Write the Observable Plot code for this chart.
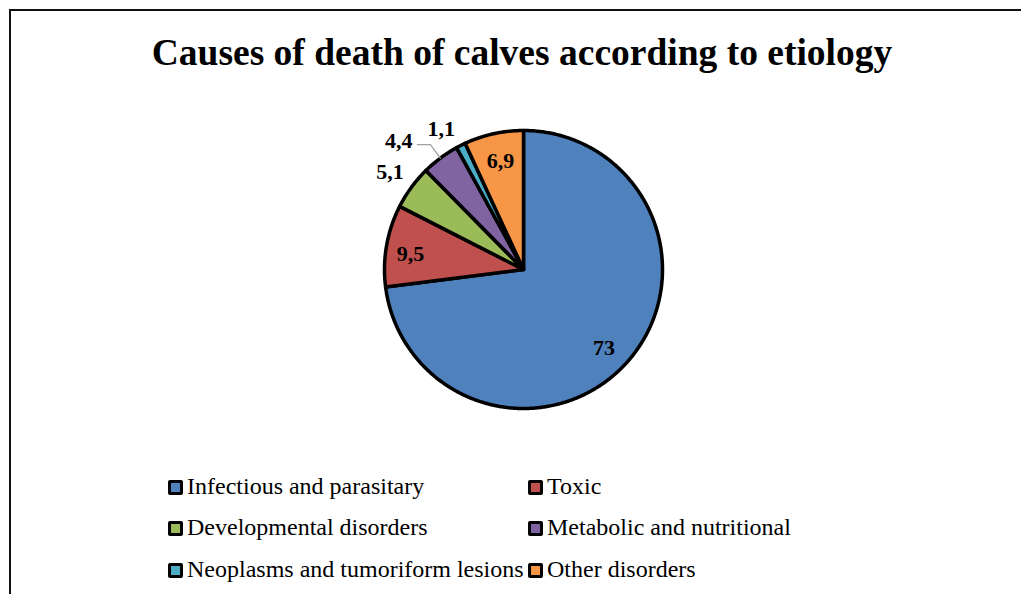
<!DOCTYPE html>
<html><head><meta charset="utf-8">
<script src="https://cdn.jsdelivr.net/npm/d3@7"></script>
<script src="https://cdn.jsdelivr.net/npm/@observablehq/plot@0.6"></script>
<style>
body{margin:0;background:#fff;}
#wrap{position:relative;width:1021px;height:594px;overflow:hidden;font-family:"Liberation Serif","Times New Roman",serif;color:#000;}
#frame{position:absolute;left:9px;top:9px;width:1100px;height:700px;border-left:2px solid #111;border-top:2px solid #111;}
#title{position:absolute;left:0;width:1044px;top:34px;text-align:center;font-weight:bold;font-size:37.5px;line-height:1;white-space:nowrap;}
#chart{position:absolute;left:0;top:100px;}
.leg{position:absolute;font-size:24px;line-height:1;display:flex;align-items:center;white-space:nowrap;}
.sw{width:9px;height:9px;border:3px solid #000;border-radius:2px;margin-right:4px;margin-top:2px;}
</style></head>
<body>
<div id="wrap">
  <div id="frame"></div>
  <div id="title"></div>
  <div id="chart"></div>
  <div id="legend"></div>
</div>
<script>
// ---- data ----
const title = "Causes of death of calves according to etiology";
const categories = ["Infectious and parasitary","Toxic","Developmental disorders","Metabolic and nutritional","Neoplasms and tumoriform lesions","Other disorders"];
const values = [73, 9.5, 5.1, 4.4, 1.1, 6.9];
const colors = ["#4F81BD","#C0504D","#9BBB59","#8064A2","#4BACC6","#F79646"];
// ---- label layout (radius as fraction of pie radius, angular shift in degrees) ----
const labelRadius = [0.81, 0.82, 1.19, 1.29, 1.17, 0.80];
const labelShift = [3, -2.3, 0, -7.4, -3.6, 0.5];

document.getElementById("title").textContent = title;

const cx = 523, cy = 169, R = 139;
const arcs = d3.pie().sort(null).value(d => d)(values);
const slicePts = [];
arcs.forEach((a, i) => {
  const c = categories[i];
  slicePts.push({c, x: 0, y: 0});
  const n = Math.max(2, Math.ceil((a.endAngle - a.startAngle) / (Math.PI / 360)));
  for (let k = 0; k <= n; k++) {
    const t = a.startAngle + (a.endAngle - a.startAngle) * k / n;
    slicePts.push({c, x: Math.sin(t), y: Math.cos(t)});
  }
});
const labels = arcs.map((a, i) => {
  const t = (a.startAngle + a.endAngle) / 2 + labelShift[i] * Math.PI / 180;
  return {c: categories[i], text: String(values[i]).replace(".", ","), x: labelRadius[i] * Math.sin(t), y: labelRadius[i] * Math.cos(t)};
});
// leader line for the Metabolic slice
const mi = 3, mt = (arcs[mi].startAngle + arcs[mi].endAngle) / 2;
const elbow = {x: 1.12 * Math.sin(mt), y: 1.12 * Math.cos(mt)};
const leader = [{x: elbow.x - 0.094, y: elbow.y}, elbow, {x: Math.sin(mt), y: Math.cos(mt)}];

const plot = Plot.plot({
  width: 1021, height: 360,
  margin: 0,
  style: {background: "transparent", overflow: "visible"},
  x: {domain: [-1, 1], range: [cx - R, cx + R], axis: null},
  y: {domain: [-1, 1], range: [cy + R, cy - R], axis: null},
  color: {domain: categories, range: colors},
  marks: [
    Plot.line(slicePts, {x: "x", y: "y", z: "c", fill: "c", stroke: "#000", strokeWidth: 3.5, strokeLinejoin: "round", curve: "linear-closed"}),
    Plot.line(leader, {x: "x", y: "y", stroke: "#a0a0a0", strokeWidth: 1.3}),
    Plot.text(labels, {x: "x", y: "y", text: "text", fontSize: 22, fontWeight: "bold", fontFamily: "Liberation Serif, Times New Roman, serif", fill: "#000"})
  ]
});
document.getElementById("chart").appendChild(plot);

// legend
const legPos = [[168, 474], [528, 474], [168, 515], [528, 515], [168, 557], [528, 557]];
const leg = document.getElementById("legend");
categories.forEach((c, i) => {
  const d = document.createElement("div");
  d.className = "leg";
  d.style.left = legPos[i][0] + "px";
  d.style.top = legPos[i][1] + "px";
  const s = document.createElement("div");
  s.className = "sw";
  s.style.background = colors[i];
  d.appendChild(s);
  d.appendChild(document.createTextNode(c));
  leg.appendChild(d);
});
</script>
</body></html>
